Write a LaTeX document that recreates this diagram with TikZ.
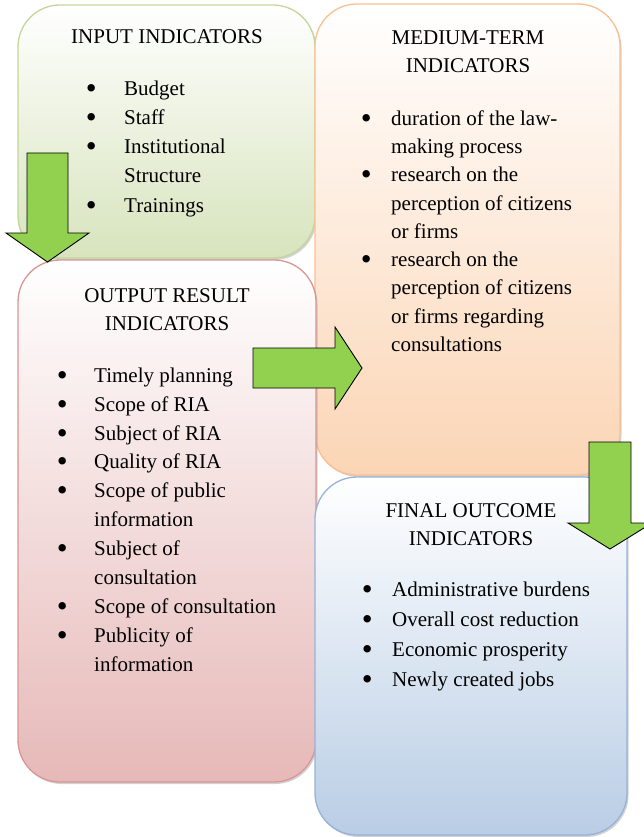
\documentclass[tikz,border=0pt]{standalone}
\usepackage{fontspec}
\setmainfont{Liberation Serif}
\usepackage{tikz}
\usetikzlibrary{shadows}

\definecolor{inborder}{HTML}{C3D69B}
\definecolor{infill}{HTML}{D7E4BD}
\definecolor{outborder}{HTML}{D99694}
\definecolor{outfill}{HTML}{E6B9B8}
\definecolor{midborder}{HTML}{FAC090}
\definecolor{midfill}{HTML}{FBD5B5}
\definecolor{finborder}{HTML}{95B3D7}
\definecolor{finfill}{HTML}{B9CDE5}
\definecolor{arrowgreen}{HTML}{92D050}

% bullet with a fixed gap before the item text
\newcommand{\lbul}[1]{\makebox[#1][l]{\raisebox{-3pt}{\fontsize{31}{31}\selectfont\textbullet}}}
\newcommand{\lgap}[1]{\hspace*{#1}}

\begin{document}
\begin{tikzpicture}[x=1pt,y=-1pt,
    panel/.style={rounded corners=42pt, line width=1.3pt, inner sep=0pt,
      drop shadow={shadow xshift=1.5pt, shadow yshift=-2pt, opacity=0.35}},
    title/.style={anchor=north, align=center, inner sep=0pt, font=\fontsize{21}{28}\selectfont},
    items/.style={anchor=north west, align=left, inner sep=0pt},
    blockarrow/.style={draw=black, fill=arrowgreen, line width=0.9pt, line join=miter}]
             \clip (0,0) rectangle (644,837);
             \fill[white] (0,0) rectangle (644,837);
             % the four boxes
             \node[panel, draw=inborder, top color=white, bottom color=infill,
               minimum width=297pt, minimum height=253pt] (input) at (166.5,131.5) {};
             \node[panel, draw=midborder, top color=white, bottom color=midfill,
               minimum width=305pt, minimum height=471pt] (medium) at (467.5,239.5) {};
             \node[panel, draw=outborder, top color=white, bottom color=outfill,
               minimum width=298pt, minimum height=522pt] (output) at (167,521) {};
             \node[panel, draw=finborder, top color=white, bottom color=finfill,
               minimum width=312pt, minimum height=358pt] (final) at (471,656) {};
             % texts
             \node[title] (inputtitle) at (167,29.5) {INPUT INDICATORS};
             \node[items, font=\fontsize{21}{29.2}\selectfont] (inputlist) at (85.6,80.5)
               {\lbul{38.4pt}Budget\\ \lbul{38.4pt}Staff\\ \lbul{38.4pt}Institutional\\
                \lgap{38.4pt}Structure\\ \lbul{38.4pt}Trainings};
             \node[title] (mediumtitle) at (468,30.5) {MEDIUM-TERM\\INDICATORS};
             \node[items, font=\fontsize{21}{28.25}\selectfont] (mediumlist) at (360.6,110.5)
               {\lbul{30.4pt}duration of the law-\\ \lgap{30.4pt}making process\\
                \lbul{30.4pt}research on the\\ \lgap{30.4pt}perception of citizens\\ \lgap{30.4pt}or firms\\
                \lbul{30.4pt}research on the\\ \lgap{30.4pt}perception of citizens\\
                \lgap{30.4pt}or firms regarding\\ \lgap{30.4pt}consultations};
             \node[title] (outputtitle) at (167,288.5) {OUTPUT RESULT\\INDICATORS};
             \node[items, font=\fontsize{21}{28.9}\selectfont] (outputlist) at (56.6,367.5)
               {\lbul{37.4pt}Timely planning\\ \lbul{37.4pt}Scope of RIA\\ \lbul{37.4pt}Subject of RIA\\
                \lbul{37.4pt}Quality of RIA\\ \lbul{37.4pt}Scope of public\\ \lgap{37.4pt}information\\
                \lbul{37.4pt}Subject of\\ \lgap{37.4pt}consultation\\ \lbul{37.4pt}Scope of consultation\\
                \lbul{37.4pt}Publicity of\\ \lgap{37.4pt}information};
             \node[title] (finaltitle) at (471,503.5) {FINAL OUTCOME\\INDICATORS};
             \node[items, font=\fontsize{21}{30}\selectfont] (finallist) at (361.6,581.5)
               {\lbul{30.4pt}Administrative burdens\\ \lbul{30.4pt}Overall cost reduction\\
                \lbul{30.4pt}Economic prosperity\\ \lbul{30.4pt}Newly created jobs};
             % green block arrows
             \draw[blockarrow] (27,153) -- (68,153) -- (68,233) -- (89,233) -- (47.5,262)
               -- (6,233) -- (27,233) -- cycle;
             \draw[blockarrow] (253,348) -- (335,348) -- (335,327) -- (362,368) -- (335,409)
               -- (335,388) -- (253,388) -- cycle;
             \draw[blockarrow] (589,442) -- (631,442) -- (631,523) -- (652,523) -- (610,549)
               -- (568,523) -- (589,523) -- cycle;
            \end{tikzpicture}
\end{document}
